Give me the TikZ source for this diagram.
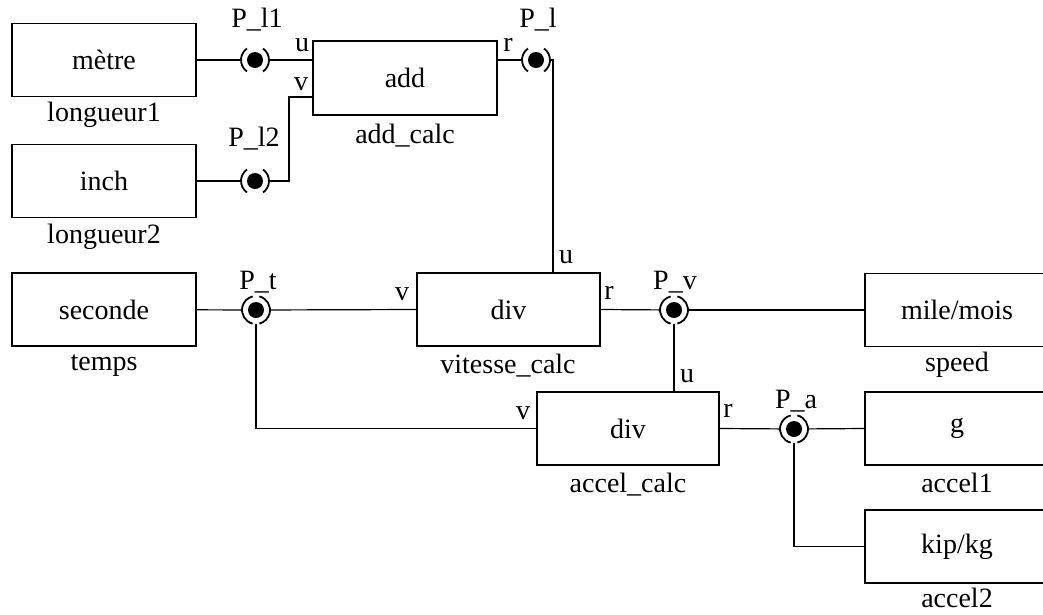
\documentclass[tikz,border=0pt]{standalone}
\usepackage{fontspec}
\setmainfont{Liberation Serif}
\begin{document}
\begin{tikzpicture}[x=1pt,y=-1pt,
  every node/.style={font=\fontsize{28}{32}\selectfont},
  blk/.style={draw, line width=1.2pt, minimum width=184pt, minimum height=73pt, inner sep=0pt},
  lbl/.style={inner sep=0pt},
  port/.style={circle, minimum size=28pt, inner sep=0pt},
  wire/.style={line width=1.2pt},
  ring/.style={line width=1.8pt}]
\newcommand{\portring}[2]{%
  \fill (#1.center) circle (8);
  \draw[ring] ([shift={(90+#2:14)}]#1.center) arc (90+#2:270-#2:14);
  \draw[ring] ([shift={(-90+#2:14)}]#1.center) arc (-90+#2:90-#2:14);
}
\clip (0,0) rectangle (1043,614);
% boxes
\node[blk] (metre) at (104,60) {mètre};
\node[blk] (inch) at (104,181) {inch};
\node[blk] (sec) at (104,309.5) {seconde};
\node[blk, minimum height=74pt] (add) at (405,78) {add};
\node[blk, minimum width=183pt] (vit) at (508.5,309.5) {div};
\node[blk, minimum width=182pt] (acc) at (628,428.5) {div};
\node[blk] (mile) at (957,310) {mile/mois};
\node[blk] (g) at (957,428.5) {g};
\node[blk] (kip) at (957,546.5) {kip/kg};
% box names
\node[lbl] (n1) at (104,115) {longueur1};
\node[lbl] (n2) at (104,237) {longueur2};
\node[lbl] (n3) at (104,366) {temps};
\node[lbl] (n4) at (405,136) {add\_calc};
\node[lbl] (n5) at (508,366) {vitesse\_calc};
\node[lbl] (n6) at (628,485) {accel\_calc};
\node[lbl] (n7) at (957,365) {speed};
\node[lbl] (n8) at (957,483) {accel1};
\node[lbl] (n9) at (957,598) {accel2};
% ports
\node[port] (pl1) at (255,60) {};
\node[port] (pl2) at (255,181) {};
\node[port] (pl) at (536,60) {};
\node[port] (pt) at (256,310) {};
\node[port] (pv) at (674,310) {};
\node[port] (pa) at (794,429) {};
\node[lbl] (tpl1) at (257,20) {P\_l1};
\node[lbl] (tpl2) at (254,139) {P\_l2};
\node[lbl] (tpl) at (538,20) {P\_l};
\node[lbl] (tpt) at (258,282) {P\_t};
\node[lbl] (tpv) at (675,282) {P\_v};
\node[lbl] (tpa) at (796,401) {P\_a};
% pin labels
\node[lbl] (au) at (302,45) {u};
\node[lbl] (av) at (301,84) {v};
\node[lbl] (ar) at (508,45) {r};
\node[lbl] (vu) at (566,257) {u};
\node[lbl] (vv) at (402,294) {v};
\node[lbl] (vr) at (609,293) {r};
\node[lbl] (cu) at (687,376) {u};
\node[lbl] (cv) at (523,413) {v};
\node[lbl] (cr) at (728,411) {r};
% helper coordinates
\coordinate (addv) at (313,97);
\coordinate (k1) at (289,97);
\coordinate (vitu) at (553,273);
% connectors
\draw[wire] (metre) -- (pl1);
\draw[wire] (pl1) -- (pl1 -| add.west);
\draw[wire] (inch) -- (pl2);
\draw[wire] (pl2) -| (k1) -- (addv);
\draw[wire] (pl -| add.east) -- (pl);
\draw[wire] (pl) -| (vitu);
\draw[wire] (sec) -- (pt);
\draw[wire] (pt) -- (vit.west);
\draw[wire] (pt) |- (acc.west);
\draw[wire] (vit.east) -- (pv);
\draw[wire] (pv) -- (mile.west);
\draw[wire] (pv) -- (pv |- acc.north);
\draw[wire] (acc.east) -- (pa);
\draw[wire] (pa) -- (g.west);
\draw[wire] (pa) |- (kip.west);
% port symbols
\portring{pl1}{35}
\portring{pl2}{35}
\portring{pl}{35}
\portring{pt}{14}
\portring{pv}{14}
\portring{pa}{14}
\end{tikzpicture}
\end{document}
